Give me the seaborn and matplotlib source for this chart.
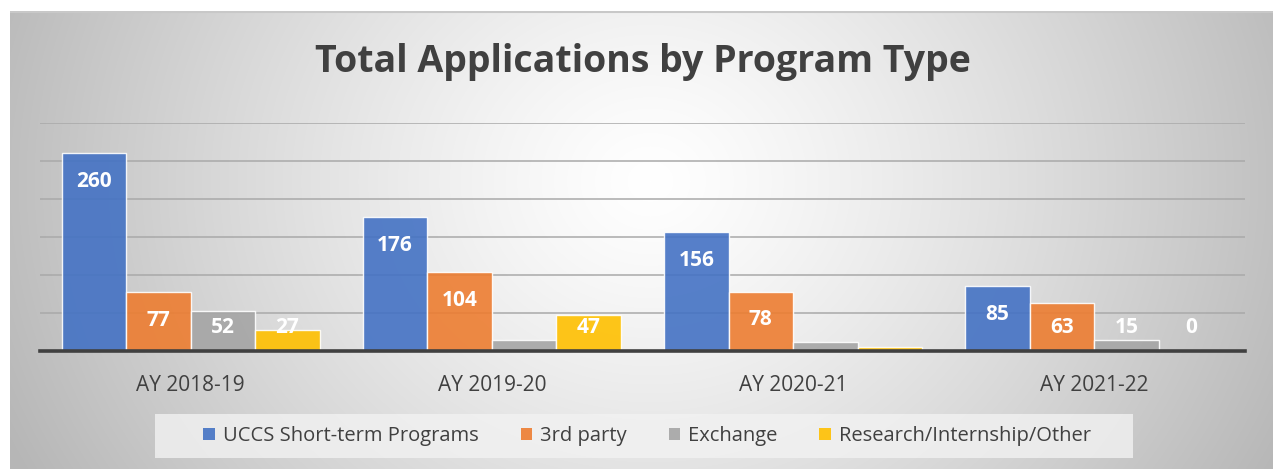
import numpy as np
import pandas as pd
import seaborn as sns
import matplotlib.pyplot as plt
from matplotlib.patches import Patch, Rectangle

# data
years = ["AY 2018-19", "AY 2019-20", "AY 2020-21", "AY 2021-22"]
program_types = ["UCCS Short-term Programs", "3rd party", "Exchange", "Research/Internship/Other"]
uccs_short_term = [260, 176, 156, 85]
third_party = [77, 104, 78, 63]
exchange = [52, 14, 12, 15]
research_other = [27, 47, 5, 0]
# which values carry a data label in the original
shown = {
    "UCCS Short-term Programs": [True, True, True, True],
    "3rd party": [True, True, True, True],
    "Exchange": [True, False, False, True],
    "Research/Internship/Other": [True, True, False, True],
}
colors = ["#4472C4", "#ED7D31", "#A5A5A5", "#FFC000"]

series = [uccs_short_term, third_party, exchange, research_other]
df = pd.DataFrame(
    [(y, t, v) for t, vals in zip(program_types, series) for y, v in zip(years, vals)],
    columns=["year", "type", "apps"],
)

sns.set_theme(style="white")
plt.rcParams["font.family"] = ["Open Sans", "DejaVu Sans"]

fig = plt.figure(figsize=(12.73, 4.69), dpi=100)
fig.patch.set_facecolor("white")

# radial grey background of the chart area
bg = fig.add_axes([10 / 1273, 0, 1 - 10 / 1273, 1 - 11 / 469], zorder=0)
h, w = 458, 1263
yy, xx = np.mgrid[0:h, 0:w]
d = np.sqrt(((xx - 640) / 640) ** 2 + ((yy - 170) / 560) ** 2)
shade = 255 - 64 * np.clip(d, 0, 1.1) ** 1.25
img = np.dstack([shade, shade, shade]) / 255
bg.imshow(np.clip(img, 0, 1), aspect="auto", interpolation="bilinear")
bg.axhline(0, color="#c8c8c8", lw=1.5)
bg.axis("off")

ax = fig.add_axes([40 / 1273, 1 - 351 / 469, 1205 / 1273, 228 / 469], zorder=1)
ax.patch.set_alpha(0)
sns.barplot(data=df, x="year", y="apps", hue="type", palette=colors,
            width=0.857, saturation=1, ax=ax, legend=False, zorder=3,
            edgecolor=(1, 1, 1, 0.5), linewidth=1, alpha=0.9)

ax.set_ylim(0, 300)
ax.set_yticks(range(50, 301, 50))
ax.yaxis.grid(True, color="#a9a9a9", lw=1.1, zorder=0)
ax.set_axisbelow(True)
ax.tick_params(axis="y", left=False, labelleft=False)
ax.tick_params(axis="x", bottom=False, pad=11, labelsize=15, labelcolor="#404040")
ax.set_xlabel("")
ax.set_ylabel("")
for s in ["top", "right", "left"]:
    ax.spines[s].set_visible(False)
ax.spines["bottom"].set_color("#404040")
ax.spines["bottom"].set_linewidth(2.6)
ax.spines["bottom"].set_zorder(5)

# data labels: inside end, kept above the axis line
for cont, t in zip(ax.containers, program_types):
    for bar, show in zip(cont, shown[t]):
        if not show:
            continue
        v = bar.get_height()
        ypos = max(v - 37, 31.5)
        ax.text(bar.get_x() + bar.get_width() / 2, ypos, f"{int(v)}",
                ha="center", va="center", color="white", fontsize=15,
                fontweight="bold", zorder=6)

fig.text(0.505, 1 - 62 / 469, "Total Applications by Program Type", ha="center",
         va="center", fontsize=27, fontweight="bold", color="#404040")

# legend panel
fig.patches.append(Rectangle((155 / 1273, 1 - 458 / 469), 978 / 1273, 44 / 469,
                             transform=fig.transFigure, facecolor="#f2f2f2",
                             edgecolor="none", alpha=0.8, zorder=1))
handles = [Patch(facecolor=c, edgecolor="none", alpha=0.9) for c in colors]
leg = fig.legend(handles, program_types, loc="center", ncol=4,
                 bbox_to_anchor=(647 / 1273, 1 - 436 / 469), frameon=False,
                 fontsize=14.5, handlelength=0.55, handleheight=0.55,
                 handletextpad=0.4, columnspacing=2.1)
for txt in leg.get_texts():
    txt.set_color("#404040")

fig.savefig("out.png", dpi=100)
